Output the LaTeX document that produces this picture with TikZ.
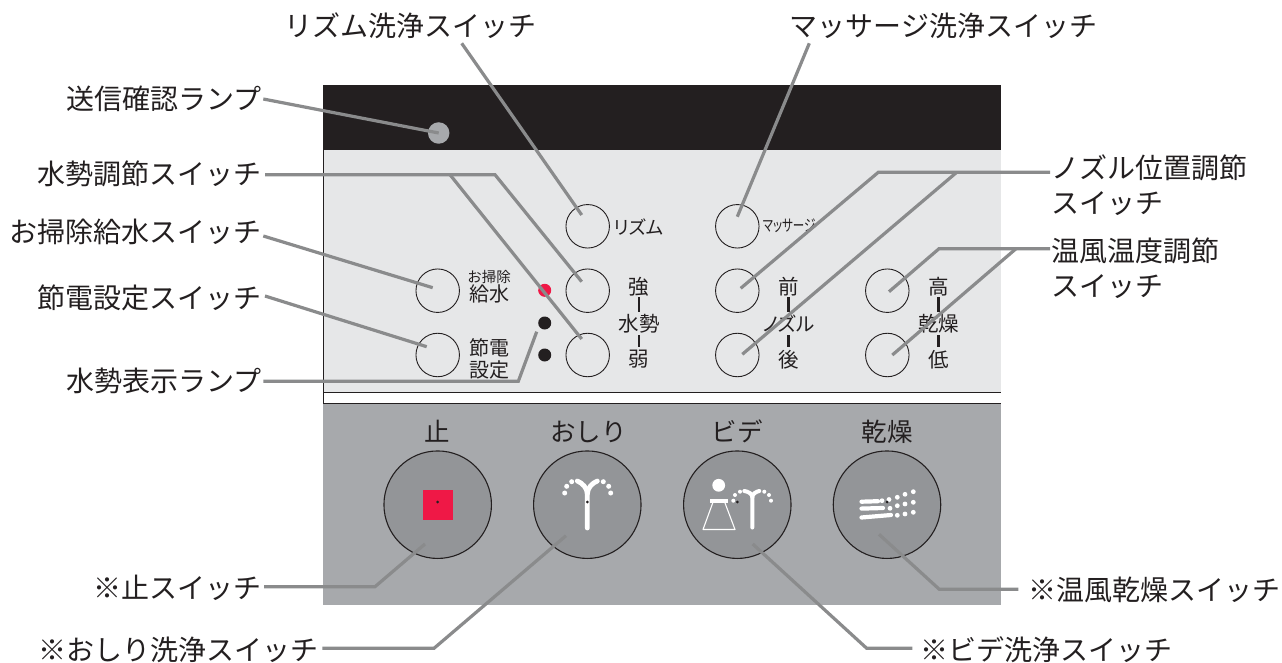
\documentclass[tikz,border=0pt]{standalone}
\usepackage{fontspec}
\setmainfont{Noto Sans CJK JP}
\newcommand{\paltOn}{\addfontfeature{RawFeature=+palt}}
\tikzset{
 x=1pt,y=-1pt,
 lead/.style={draw=leadgray,line width=3.2pt,line join=miter},
 sbtn/.style={circle,draw=inkc,line width=0.9pt,minimum size=43.5pt,inner sep=0pt},
 bbtn/.style={circle,draw=inkc,line width=1.1pt,fill=btngray,minimum size=107.5pt,inner sep=0pt},
 lbl/.style={inner sep=0pt,font=\fontsize{28}{35}\selectfont,text=inkc},
 lblw/.style={lbl,anchor=west},
 lble/.style={lbl,anchor=east},
 pan/.style={inner sep=0pt,font=\fontsize{20.5}{22}\selectfont,text=inkc,align=center},
 small/.style={inner sep=0pt,text=inkc,align=center},
 head/.style={inner sep=0pt,font=\fontsize{25.5}{28}\selectfont,text=inkc},
 bar/.style={draw=inkc,line width=2.7pt},
}
\definecolor{leadgray}{HTML}{8A8B8C}
\definecolor{inkc}{HTML}{231F20}
\definecolor{btngray}{HTML}{939598}
\definecolor{pangray}{HTML}{A7A9AC}
\definecolor{lightp}{HTML}{E6E7E8}
\definecolor{redc}{HTML}{EF1846}
\begin{document}
\begin{tikzpicture}
\useasboundingbox (0,0) rectangle (1282,663);
\fill[white] (0,0) rectangle (1282,663);
% panels
\fill[lightp] (323,150) rectangle (1001,392.5);
\fill[inkc] (323,85) rectangle (1001,150);
\draw[inkc,line width=0.9pt] (323,150) -- (323,403) -- (1001,403);
\draw[inkc,line width=0.9pt] (323,392.5) -- (1001,392.5);
\fill[pangray] (323,403.5) rectangle (1001,605);
% lamps
\node[circle,fill=pangray,minimum size=21.5pt,inner sep=0pt] (send) at (438.7,133) {};
\node[circle,fill=redc,minimum size=13pt,inner sep=0pt] (ledr) at (544.7,290.3) {};
\node[circle,fill=inkc,minimum size=13pt,inner sep=0pt] (ledm) at (544.7,323) {};
\node[circle,fill=inkc,minimum size=13pt,inner sep=0pt] (ledl) at (544.7,355) {};
% small buttons
\node[sbtn] (rz) at (587.7,226.3) {};
\node[sbtn] (ma) at (737.3,226.3) {};
\node[sbtn] (so) at (437.7,290.7) {};
\node[sbtn] (se) at (437.7,355) {};
\node[sbtn] (st) at (587.7,290.7) {};
\node[sbtn] (we) at (587.7,355) {};
\node[sbtn] (fr) at (737.3,290.7) {};
\node[sbtn] (ba) at (737.3,355) {};
\node[sbtn] (hi) at (887.3,290.7) {};
\node[sbtn] (lo) at (887.3,355) {};
% panel labels
\node[small,font=\fontsize{18.5}{20}\selectfont\paltOn] (t1) at (639,226.7) {リズム};
\node[small] (t2) at (489,287) {\fontsize{14.5}{21}\selectfont お掃除\\\fontsize{20}{21}\selectfont 給水};
\node[small,font=\fontsize{20}{22}\selectfont] (t3) at (489,359) {節電\\設定};
\node[pan] (t4) at (639,287) {強};
\node[pan] (t5) at (639,323.3) {水勢};
\node[pan] (t6) at (639,359.3) {弱};
\node[small,xscale=0.72,font=\fontsize{16}{18}\selectfont\paltOn] (t7) at (789,226) {マッサージ};
\node[pan] (t8) at (788.5,287) {前};
\node[pan,font=\fontsize{19.5}{22}\selectfont\paltOn] (t9) at (788.5,323.3) {ノズル};
\node[pan] (t10) at (788.5,359.3) {後};
\node[pan] (t11) at (938.5,287) {高};
\node[pan] (t12) at (938.5,323.3) {乾燥};
\node[pan] (t13) at (938.5,359.3) {低};
\draw[bar] (639,297.3) -- (639,311.7);
\draw[bar] (639,335) -- (639,347);
\draw[bar] (788.5,297.3) -- (788.5,311.7);
\draw[bar] (788.5,335) -- (788.5,347);
\draw[bar] (938.5,297.3) -- (938.5,311.7);
\draw[bar] (938.5,335) -- (938.5,347);
% big buttons
\node[head] (h1) at (437.7,431.7) {止};
\node[head] (h2) at (588.3,431.7) {おしり};
\node[head] (h3) at (737.3,431.7) {ビデ};
\node[head] (h4) at (887,431.7) {乾燥};
\node[bbtn] (b1) at (437.7,504.7) {};
\node[bbtn] (b2) at (587.3,504.7) {};
\node[bbtn] (b3) at (737.3,504.7) {};
\node[bbtn] (b4) at (887,504.7) {};
% stop icon
\fill[redc] (423,490) rectangle (453,520);
% oshiri icon
\begin{scope}[shift={(587.3,502)}]
\draw[white,line width=4.8pt,line cap=round,line join=round] (0,26) -- (0,-8) .. controls (0,-14) and (-5,-19) .. (-10,-21);
\draw[white,line width=4.8pt,line cap=round] (0,-8) .. controls (0,-14) and (5,-19) .. (10,-21);
\foreach \a/\b in {-15.6/-20.3,-20.6/-15.7,-22.6/-9,16/-20.3,21.4/-15.7,23.4/-9}{\fill[white] (\a,\b) circle[radius=2.5];}
\end{scope}
% bidet icon
\fill[white] (718.7,485.3) circle[radius=6.4];
\draw[white,line width=1.1pt,line join=round] (712.7,503) -- (703,529.5) -- (735,529.5) -- (725,503);
\fill[white] (710,499.3) rectangle (727.7,503);
\begin{scope}[shift={(752.3,502)}]
\draw[white,line width=4pt,line cap=round,line join=round] (0,25.5) -- (0,-5) .. controls (0,-8) and (-4,-10.5) .. (-8,-11);
\draw[white,line width=4pt,line cap=round] (0,-5) .. controls (0,-8) and (4,-10.5) .. (7,-11);
\foreach \a/\b in {-12.3/-10.3,-17.3/-7,-19/-1.3,12/-10.3,16.7/-7,18.7/-1.3}{\fill[white] (\a,\b) circle[radius=2];}
\end{scope}
% dry icon
\draw[white,line width=4.2pt,line cap=round] (861.5,501.7) -- (878,501.2);
\draw[white,line width=4.2pt,line cap=round] (861.5,508.6) -- (883,508);
\draw[white,line width=4.2pt,line cap=round] (861.5,517.5) -- (891,515);
\foreach \a/\b in {882/500.7,889/499.5,890/508.3,897.3/497.3,905/494.3,913.3/491.7,897.3/505.7,905/504,913.3/502.3,897.3/515.3,905/514,913.3/512.3}{\fill[white] (\a,\b) circle[radius=2.4];}
% centre dots
\foreach \p in {(437.7,502),(587.3,502),(737.3,502),(887,502)}{\fill[inkc] \p circle[radius=1.5];}
% labels
\node[lble] (L1) at (262,99) {送信確認ランプ};
\node[lble] (L2) at (262,174) {水勢調節スイッチ};
\node[lble] (L3) at (262,232) {お掃除給水スイッチ};
\node[lble] (L4) at (262,298) {節電設定スイッチ};
\node[lble] (L5) at (262,381) {水勢表示ランプ};
\node[lble] (L6) at (262,588) {※止スイッチ};
\node[lble] (L7) at (319,650) {※おしり洗浄スイッチ};
\node[lbl] (L8) at (410,26) {リズム洗浄スイッチ};
\node[lbl] (L9) at (943.5,26) {マッサージ洗浄スイッチ};
\node[lblw,align=left] (L10) at (1051,185.5) {ノズル位置調節\\スイッチ};
\node[lblw,align=left] (L11) at (1051,268.5) {温風温度調節\\スイッチ};
\node[lblw] (L12) at (1028,590) {※温風乾燥スイッチ};
\node[lblw] (L13) at (920,650) {※ビデ洗浄スイッチ};
% leaders
\path[lead] (263.3,99) -- (send.center);
\path[lead] (461.7,43.3) -- (581.7,215);
\path[lead] (809.3,43.3) -- (737.3,216.7);
\path[lead] (265,174.7) -- (495,174.7) -- (581.7,281.7);
\path[lead] (450,174.7) -- (581.7,339);
\path[lead] (263.3,236) -- (432.7,287.7);
\path[lead] (265,296) -- (426.7,346.7);
\path[lead] (263.3,381.3) -- (518.3,381.3) -- (536.7,331.7);
\path[lead] (1050,172.3) -- (878.3,172.3) -- (740.7,288.3);
\path[lead] (956.7,172.3) -- (742.3,354.3);
\path[lead] (1050,248.7) -- (939,248.7) -- (889,291.7);
\path[lead] (1016,248.7) -- (892.3,355);
\path[lead] (264,586.7) -- (375,586.7) -- (425,544);
\path[lead] (322.3,648.3) -- (434,648.3) -- (566,535.7);
\path[lead] (912.3,648.3) -- (866.7,648.3) -- (752.7,544);
\path[lead] (1018.3,589.3) -- (939.3,589.3) -- (879,534.3);
\end{tikzpicture}
\end{document}
